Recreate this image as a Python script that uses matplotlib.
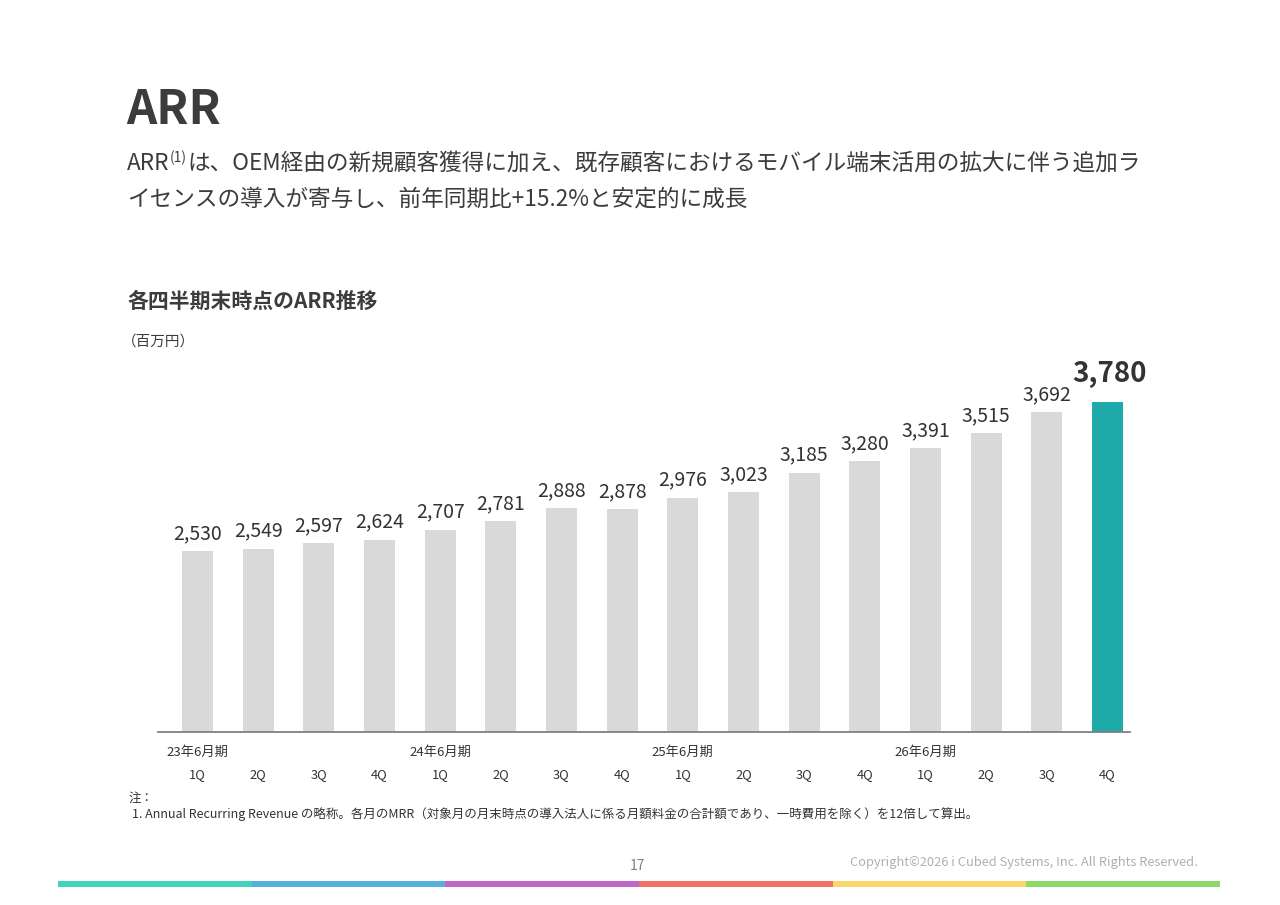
import matplotlib
matplotlib.use("Agg")
import matplotlib.pyplot as plt
from matplotlib import transforms
from matplotlib.patches import Rectangle

plt.rcParams["font.family"] = ["Noto Sans CJK JP", "DejaVu Sans"]

QUARTERS = ["1Q", "2Q", "3Q", "4Q"] * 4
FISCAL_YEARS = ["23年6月期", "24年6月期", "25年6月期", "26年6月期"]
ARR_VALUES = [2530, 2549, 2597, 2624, 2707, 2781, 2888, 2878,
              2976, 3023, 3185, 3280, 3391, 3515, 3692, 3780]

TITLE = "ARR"
LEAD_1 = "は、OEM経由の新規顧客獲得に加え、既存顧客におけるモバイル端末活用の拡大に伴う追加ラ"
LEAD_2 = "イセンスの導入が寄与し、前年同期比+15.2%と安定的に成長"
SECTION = "各四半期末時点のARR推移"
UNIT = "（百万円）"
NOTE_HEAD = "注："
NOTE_1 = "1. Annual Recurring Revenue の略称。各月のMRR（対象月の月末時点の導入法人に係る月額料金の合計額であり、一時費用を除く）を12倍して算出。"
PAGE = "17"
COPYRIGHT = "Copyright©2026 i Cubed Systems, Inc. All Rights Reserved."

GRAY_BAR = "#d9d9d9"
TEAL_BAR = "#1eaaa8"
TEXT = "#3c3c3c"
STRIPE_COLORS = ["#40d4bd", "#55b0e0", "#c166c9", "#f4716a", "#fbd66c", "#8fd968"]

W, H = 1280, 905


def fx(px):
    return px / W


def fy(py):
    return 1 - py / H


fig = plt.figure(figsize=(12.8, 9.05), dpi=100)
renderer = fig.canvas.get_renderer()

# chart area
ax = fig.add_axes([fx(158), fy(732), (1130 - 158) / W, (732 - 374) / H])
xs = list(range(len(ARR_VALUES)))
colors = [GRAY_BAR] * (len(ARR_VALUES) - 1) + [TEAL_BAR]
ax.bar(xs, ARR_VALUES, width=0.51, color=colors, zorder=2)
ax.set_xlim(-0.651, 15.37)
ax.set_ylim(1012, 4012)

for i, v in enumerate(ARR_VALUES):
    if i == len(ARR_VALUES) - 1:
        ax.annotate(f"{v:,}", (i, v), xytext=(1.5, 14.4), textcoords="offset points",
                    ha="center", va="baseline", fontsize=20, fontweight="bold", color="#333333")
    else:
        ax.annotate(f"{v:,}", (i, v), xytext=(0, 8.6), textcoords="offset points",
                    ha="center", va="baseline", fontsize=14, color="#333333")

for side in ["top", "left", "right"]:
    ax.spines[side].set_visible(False)
ax.spines["bottom"].set_color("#808080")
ax.spines["bottom"].set_linewidth(1.3)
ax.set_yticks([])
ax.set_xticks(xs)
ax.set_xticklabels(QUARTERS, fontsize=9.3, color="#333333")
ax.tick_params(axis="x", length=0, pad=26)

blend = transforms.blended_transform_factory(ax.transData, fig.transFigure)
for k, label in enumerate(FISCAL_YEARS):
    ax.text(k * 4, fy(752), label, transform=blend, ha="center", va="center",
            fontsize=9.5, color="#333333")

# header texts
fig.text(fx(126), fy(124), TITLE, fontsize=34, fontweight="bold", color=TEXT, va="baseline")

t = fig.text(fx(127), fy(170), "ARR", fontsize=16.3, color=TEXT, va="baseline")
x_end = t.get_window_extent(renderer).x1
t = fig.text(x_end / W, fy(162), "(1)", fontsize=10, color=TEXT, va="baseline")
x_end = t.get_window_extent(renderer).x1
fig.text((x_end + 0.5) / W, fy(170), LEAD_1, fontsize=16.3, color=TEXT, va="baseline")
fig.text(fx(127), fy(206), LEAD_2, fontsize=16.3, color=TEXT, va="baseline")

fig.text(fx(127), fy(308), SECTION, fontsize=15, fontweight="bold", color=TEXT, va="baseline")
fig.text(fx(122), fy(346), UNIT, fontsize=10.5, color=TEXT, va="baseline")

# footnotes
fig.text(fx(129), fy(802), NOTE_HEAD, fontsize=9, color="#333333", va="baseline")
fig.text(fx(132), fy(818), NOTE_1, fontsize=9, color="#333333", va="baseline")

fig.text(fx(637), fy(866), PAGE, fontsize=10, color="#808080", ha="center", va="center")
fig.text(fx(1198), fy(862), COPYRIGHT, fontsize=9.3, color="#b0b0b0", ha="right", va="center")

# bottom colour stripe
seg = (1220 - 58) / len(STRIPE_COLORS)
for k, c in enumerate(STRIPE_COLORS):
    fig.add_artist(Rectangle((fx(58 + k * seg), fy(887)), seg / W, 6 / H,
                             transform=fig.transFigure, color=c, lw=0))

fig.savefig("out.png", dpi=100)
